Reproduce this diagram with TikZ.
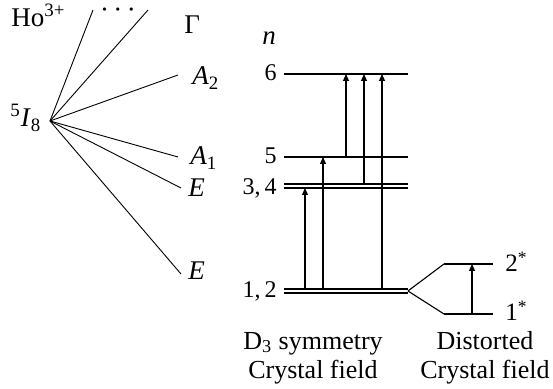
\documentclass[tikz,border=0pt]{standalone}
\usepackage{fontspec}
\setmainfont{Liberation Serif}
\usetikzlibrary{arrows.meta,calc}

\begin{document}
\begin{tikzpicture}[
  x=0.5pt, y=-0.5pt,
  term/.style={font=\fontsize{13.5}{15}\selectfont, inner sep=0pt},
  num/.style={font=\fontsize{12}{14}\selectfont, inner sep=0pt},
  star/.style={font=\fontsize{12.5}{14}\selectfont, inner sep=0pt},
  capt/.style={font=\fontsize{13}{14.5}\selectfont, align=center, inner sep=0pt},
  fan/.style={line width=0.45pt},
  lvl/.style={line width=0.9pt},
  up/.style={-{Triangle[length=3.5pt,width=3pt]}, line width=0.55pt},
]
\useasboundingbox (0,0) rectangle (553,389);

% Free-ion term and its splitting.
\node[term, anchor=base west] (ion) at (11,27) {Ho\textsuperscript{3+}};
\node[term, anchor=base west] (term) at (10,127)
  {\textsuperscript{5}\textit{I}\textsubscript{8}};
\coordinate (fanc) at (50,121);
\coordinate (topa) at (93,10);
\coordinate (topb) at (148,10);
\coordinate (ena) at (178,75);
\coordinate (enb) at (178,157);
\coordinate (enc) at (181,188);
\coordinate (enlow) at (181,274);
\foreach \e in {topa,topb,ena,enb,enc,enlow}
  \draw[fan] (fanc) -- (\e);

\node[term, anchor=base] (dots) at (118,19) {·\,·\,·};
\node[term, anchor=base west] (gam) at (184,34) {Γ};
\node[term, anchor=base west] (atwo) at (192,85) {\textit{A}\textsubscript{2}};
\node[term, anchor=base west] (aone) at (190,165) {\textit{A}\textsubscript{1}};
\node[term, anchor=base west] (eup) at (188,197) {\textit{E}};
\node[term, anchor=base west] (elow) at (188,280) {\textit{E}};
\node[term, anchor=base west] (nlab) at (262,45) {\textit{n}};

% D3 levels.
\coordinate (six) at (284,74);
\coordinate (five) at (284,157);
\coordinate (thra) at (284,184);
\coordinate (thrb) at (284,188);
\coordinate (onea) at (284,289);
\coordinate (oneb) at (284,293);
\foreach \l in {six,five,thra,thrb,onea,oneb}
  \draw[lvl] (\l) -- ++(124,0);

\node[num, anchor=base east] (nsix) at (277,81) {6};
\node[num, anchor=base east] (nfive) at (277,164) {5};
\node[num, anchor=base east] (nthr) at (277,195) {3,\,4};
\node[num, anchor=base east] (none) at (277,298) {1,\,2};

% Transitions.
\coordinate (ca) at (305,0);
\coordinate (cb) at (323,0);
\coordinate (cc) at (346,0);
\coordinate (cd) at (364,0);
\coordinate (ce) at (382,0);
\draw[up] (ca |- onea) -- (ca |- thrb);
\draw[up] (cb |- onea) -- (cb |- five);
\draw[up] (cc |- five) -- (cc |- six);
\draw[up] (cd |- thra) -- (cd |- six);
\draw[up] (ce |- onea) -- (ce |- six);

% Distorted field.
\coordinate (splt) at (408,291);
\coordinate (twos) at (444,264);
\coordinate (ones) at (444,314);
\draw[fan, line width=0.55pt] (splt) -- (twos);
\draw[fan, line width=0.55pt] (splt) -- (ones);
\draw[lvl] (twos) -- ++(49,0);
\draw[lvl] (ones) -- ++(49,0);
\coordinate (cf) at (472,0);
\draw[up] (cf |- ones) -- (cf |- twos);

\node[star, anchor=base west] (ntwo) at (505,272) {2\textsuperscript{*}};
\node[star, anchor=base west] (nones) at (505,321) {1\textsuperscript{*}};

\node[capt] (dthree) at (313,358) {D\textsubscript{3} symmetry\\Crystal field};
\node[capt] (dist) at (485,358) {Distorted\\Crystal field};

\end{tikzpicture}
\end{document}
